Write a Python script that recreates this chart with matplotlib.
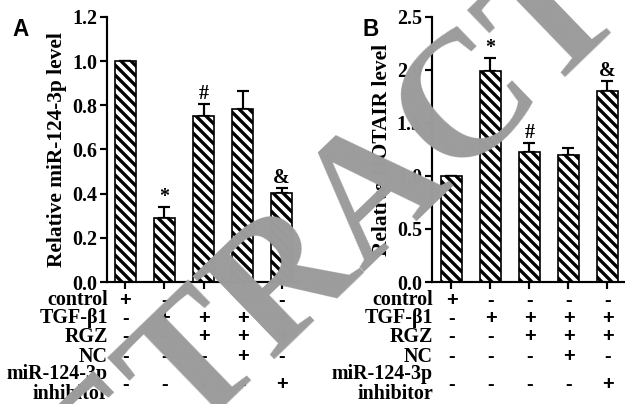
import matplotlib
matplotlib.use("Agg")
import matplotlib.pyplot as plt
import matplotlib.transforms as mtransforms

# rows of the treatment table under each panel
row_labels = ["control", "TGF-\u03b21", "RGZ", "NC", "miR-124-3p\ninhibitor"]
row_signs = [
    ["+", "-", "-", "-", "-"],
    ["-", "+", "+", "+", "+"],
    ["-", "-", "+", "+", "+"],
    ["-", "-", "-", "+", "-"],
    ["-", "-", "-", "-", "+"],
]

# panel A: miR-124-3p
mir_vals = [1.0, 0.29, 0.75, 0.785, 0.405]
mir_err = [0.0, 0.05, 0.055, 0.08, 0.02]
mir_marks = ["", "*", "#", "", "&"]
mir_ticks = [0.0, 0.2, 0.4, 0.6, 0.8, 1.0, 1.2]

# panel B: HOTAIR
hot_vals = [1.0, 1.99, 1.23, 1.20, 1.80]
hot_err = [0.0, 0.12, 0.08, 0.06, 0.10]
hot_marks = ["", "*", "#", "", "&"]
hot_ticks = [0.0, 0.5, 1.0, 1.5, 2.0, 2.5]

DPI = 120
W, H = 625, 404
SERIF = "Liberation Serif"
SANS = "Liberation Sans"

plt.rcParams["hatch.linewidth"] = 2.0
plt.rcParams["hatch.color"] = "black"

fig = plt.figure(figsize=(W / DPI, H / DPI), dpi=DPI)

# pixel rows for the table text (one entry per label line) and the signs
label_y = [[300], [318], [337], [357], [374, 394]]
sign_y = [301, 318, 337, 357, 384]


def panel(left, vals, err, marks, ticks, ylabel, letter, letter_x, xlim):
    ax = fig.add_axes([left / W, 1 - 282 / H, 193 / W, 265 / H])
    x = list(range(len(vals)))
    ax.bar(x, vals, width=0.54, color="white", edgecolor="black",
           linewidth=1.0, hatch="\\\\\\\\", zorder=2)
    ax.errorbar(x, vals, yerr=[[0] * len(err), err], fmt="none",
                ecolor="black", elinewidth=1.3, capsize=3.6, capthick=1.3, zorder=1)
    for xi, v, e, m in zip(x, vals, err, marks):
        if m:
            ax.text(xi, v + e, m, ha="center", va="bottom", fontsize=12,
                    fontweight="bold", family=SERIF)
    ax.set_xlim(*xlim)
    ax.set_ylim(ticks[0], ticks[-1])
    ax.set_yticks(ticks)
    ax.set_yticklabels([f"{t:.1f}" for t in ticks])
    ax.set_xticks(x)
    ax.set_xticklabels([])
    for s in ["top", "right"]:
        ax.spines[s].set_visible(False)
    for s in ["left", "bottom"]:
        ax.spines[s].set_linewidth(1.3)
    ax.tick_params(direction="out", length=4, width=1.3, pad=2)
    for lab in ax.get_yticklabels():
        lab.set_fontfamily(SERIF)
        lab.set_fontweight("bold")
        lab.set_fontsize(12)
    ax.set_ylabel(ylabel, fontsize=12.8, fontweight="bold", family=SERIF, labelpad=3)

    # treatment table
    tr = mtransforms.blended_transform_factory(ax.transData, fig.transFigure)
    trl = mtransforms.blended_transform_factory(ax.transAxes, fig.transFigure)
    for lab, lys, sy, signs in zip(row_labels, label_y, sign_y, row_signs):
        for line, ly in zip(lab.split("\n"), lys):
            ax.text(0.005, 1 - ly / H, line, transform=trl, ha="right", va="center",
                    fontsize=12, fontweight="bold", family=SERIF, clip_on=False)
        for xi, sg in zip(x, signs):
            ax.text(xi, 1 - sy / H, sg, transform=tr, ha="center", va="center",
                    fontsize=12, fontweight="bold", family=SANS, clip_on=False)

    fig.text(letter_x / W, 1 - 29 / H, letter, fontsize=13.5,
             fontweight="bold", family=SANS, va="center", ha="left")
    return ax


panel(107, mir_vals, mir_err, mir_marks, mir_ticks,
      "Relative miR-124-3p level", "A", 12, (-0.47, 4.47))
panel(432, hot_vals, hot_err, hot_marks, hot_ticks,
      "Relative HOTAIR level", "B", 362, (-0.5, 4.45))

# retraction watermark
fig.text(408 / W, 1 - 226 / H, "RETRACTED", rotation=44, ha="center",
         va="baseline", fontsize=106, fontweight="bold", family=SERIF,
         color="#9c9c9c", rotation_mode="anchor", zorder=10)

fig.savefig("out.png", dpi=DPI)
